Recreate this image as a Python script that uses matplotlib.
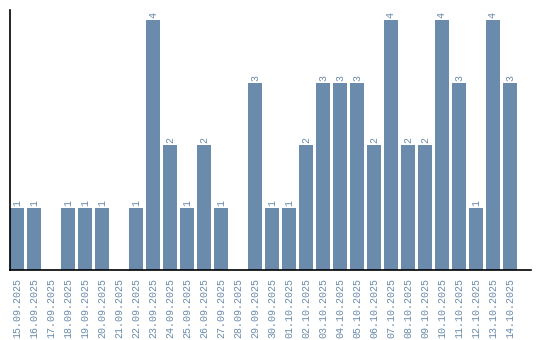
import matplotlib
matplotlib.use("Agg")
import matplotlib.pyplot as plt

dates = ["15.09.2025", "16.09.2025", "17.09.2025", "18.09.2025", "19.09.2025",
         "20.09.2025", "21.09.2025", "22.09.2025", "23.09.2025", "24.09.2025",
         "25.09.2025", "26.09.2025", "27.09.2025", "28.09.2025", "29.09.2025",
         "30.09.2025", "01.10.2025", "02.10.2025", "03.10.2025", "04.10.2025",
         "05.10.2025", "06.10.2025", "07.10.2025", "08.10.2025", "09.10.2025",
         "10.10.2025", "11.10.2025", "12.10.2025", "13.10.2025", "14.10.2025"]
counts = [1, 1, 0, 1, 1, 1, 0, 1, 4, 2, 1, 2, 1, 0, 3,
          1, 1, 2, 3, 3, 3, 2, 4, 2, 2, 4, 3, 1, 4, 3]

bar_color = "#6a8bab"
text_color = "#6a8bab"
font = "Liberation Mono"

fig = plt.figure(figsize=(5.4, 3.4), dpi=100)
ax = fig.add_axes([10 / 540, 70 / 340, 521 / 540, 260 / 340])

xs = list(range(len(dates)))
ax.bar(xs, counts, width=0.82, color=bar_color)

for x, c in zip(xs, counts):
    if c > 0:
        ax.text(x, c + 0.03, str(c), rotation=90, ha="center", va="bottom",
                fontsize=7.2, family=font, color=text_color)

ax.set_xlim(-0.41, 30.24)
ax.set_ylim(0, 4.16)
ax.set_xticks(xs)
ax.set_xticklabels(dates, rotation=90, fontsize=7.2, family=font, color=text_color)
ax.tick_params(axis="x", length=0, pad=6)
ax.set_yticks([])
ax.spines["top"].set_visible(False)
ax.spines["right"].set_visible(False)
ax.spines["left"].set_linewidth(1.2)
ax.spines["bottom"].set_linewidth(1.2)

fig.savefig("out.png", dpi=100)
